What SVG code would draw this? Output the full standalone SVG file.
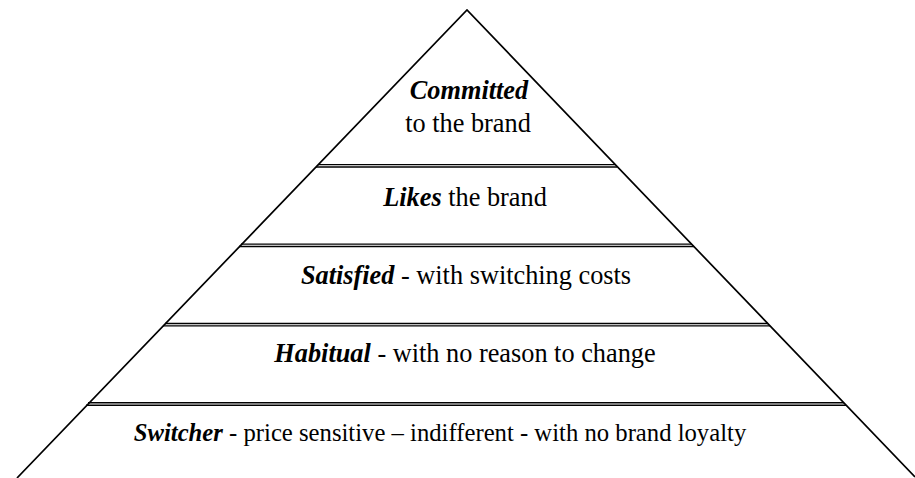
<svg xmlns="http://www.w3.org/2000/svg" width="915" height="478" viewBox="0 0 915 478">
<style>
.edge{stroke:#000;stroke-width:1.7;fill:none}
.band{stroke:#000;stroke-width:1.4;fill:none}
text{font-family:"Liberation Serif","Times New Roman",serif;font-size:26.3px;fill:#000;text-anchor:middle}
.b{font-weight:bold;font-style:italic}
.s{font-size:24.7px}
</style>
<rect width="915" height="478" fill="#fff"/>
<g id="connectors">
<path class="edge" d="M17,478 L467,10 L915,477"/>
<g id="bands">
<path class="band" d="M318,164.6 H615 M316,167 H617"/>
<path class="band" d="M241,244.1 H692 M239,246.5 H694"/>
<path class="band" d="M165,323.5 H768 M163,325.9 H770"/>
<path class="band" d="M88,402.8 H844 M86,405.2 H846"/>
</g>
</g>
<g id="committed"><text x="469" y="99"><tspan class="b">Committed</tspan></text><text x="468" y="132">to the brand</text></g>
<g id="likes"><text x="465" y="206"><tspan class="b">Likes</tspan> the brand</text></g>
<g id="satisfied"><text x="466" y="284"><tspan class="b">Satisfied</tspan> - with switching costs</text></g>
<g id="habitual"><text x="465" y="362"><tspan class="b">Habitual</tspan> - with no reason to change</text></g>
<g id="switcher"><text class="s" x="440" y="441"><tspan class="b">Switcher</tspan> - price sensitive – indifferent - with no brand loyalty</text></g>
</svg>
